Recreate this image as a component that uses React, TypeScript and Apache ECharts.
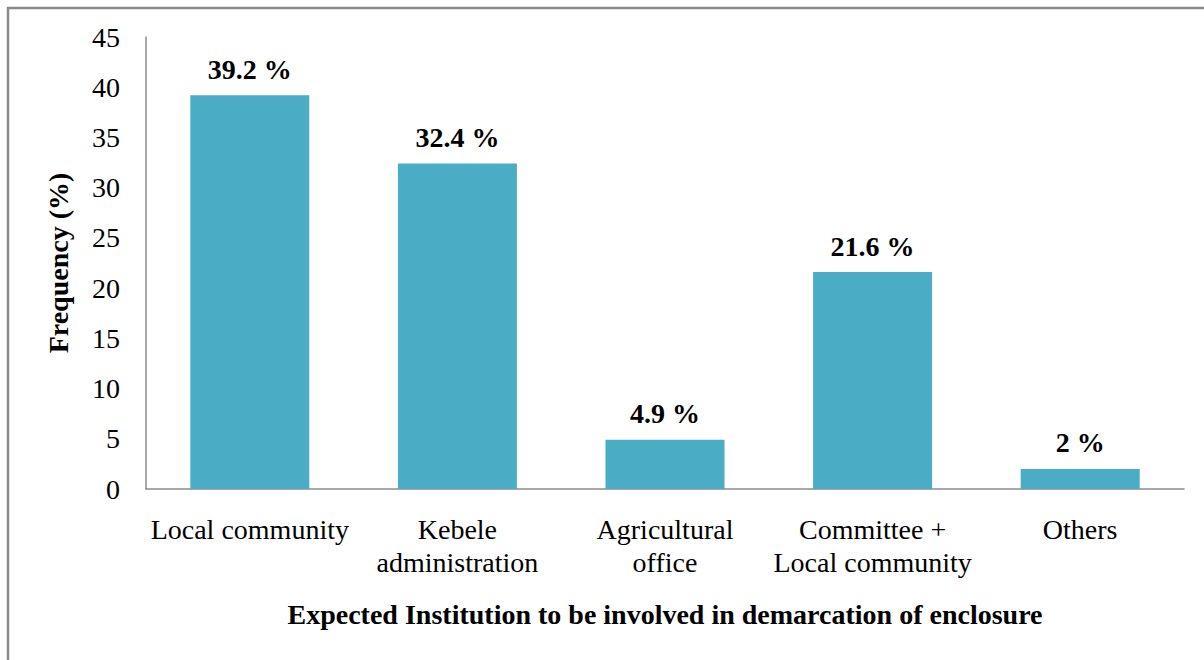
import React, { useEffect, useRef } from "react";
import * as echarts from "echarts";

const categories = [
  "Local community",
  "Kebele\nadministration",
  "Agricultural\noffice",
  "Committee +\nLocal community",
  "Others",
];
const values = [39.2, 32.4, 4.9, 21.6, 2];
const labels = ["39.2 %", "32.4 %", "4.9 %", "21.6 %", "2 %"];
const yMin = 0;
const yMax = 45;
const yInterval = 5;
const xTitle = "Expected Institution to be involved in demarcation of enclosure";
const yTitle = "Frequency (%)";

const FONT = "'Liberation Serif', 'Times New Roman', serif";

export default function App() {
  const ref = useRef<HTMLDivElement>(null);
  useEffect(() => {
    if (!ref.current) return;
    const chart = echarts.init(ref.current, undefined, { renderer: "svg" });
    chart.setOption({
      animation: false,
      backgroundColor: "#ffffff",
      textStyle: { fontFamily: FONT },
      grid: { left: 146, right: 20, top: 37, bottom: 171, containLabel: false },
      graphic: [
        {
          type: "line",
          shape: { x1: 7, y1: 8, x2: 1204, y2: 8 },
          style: { stroke: "#8a8a8a", lineWidth: 2.5 },
        },
        {
          type: "line",
          shape: { x1: 8, y1: 7, x2: 8, y2: 660 },
          style: { stroke: "#8a8a8a", lineWidth: 2.5 },
        },
      ],
      xAxis: {
        type: "category",
        data: categories,
        axisTick: { show: false },
        axisLine: { show: true, lineStyle: { color: "#8c8c8c", width: 1.5 } },
        axisLabel: {
          color: "#000",
          fontFamily: FONT,
          fontSize: 28,
          lineHeight: 33,
          margin: 24,
          interval: 0,
        },
        name: xTitle,
        nameLocation: "middle",
        nameGap: 111,
        nameTextStyle: {
          color: "#000",
          fontFamily: FONT,
          fontSize: 28,
          fontWeight: "bold",
          verticalAlign: "top",
        },
      },
      yAxis: {
        type: "value",
        min: yMin,
        max: yMax,
        interval: yInterval,
        splitLine: { show: false },
        axisTick: { show: false },
        axisLine: { show: true, lineStyle: { color: "#8c8c8c", width: 1.5 } },
        axisLabel: {
          color: "#000",
          fontFamily: FONT,
          fontSize: 28,
          margin: 26,
        },
        name: yTitle,
        nameLocation: "middle",
        nameGap: 88,
        nameRotate: 90,
        nameTextStyle: {
          color: "#000",
          fontFamily: FONT,
          fontSize: 28,
          fontWeight: "bold",
          verticalAlign: "middle",
        },
      },
      series: [
        {
          type: "bar",
          data: values,
          barWidth: 119,
          itemStyle: { color: "#4BACC6" },
          label: {
            show: true,
            position: "top",
            distance: 12,
            color: "#000",
            fontFamily: FONT,
            fontSize: 28,
            fontWeight: "bold",
            formatter: (p: any) => labels[p.dataIndex],
          },
        },
      ],
    });
    return () => chart.dispose();
  }, []);
  return (
    <div
      ref={ref}
      style={{ position: "fixed", left: 0, top: 0, width: 1204, height: 660 }}
    />
  );
}
